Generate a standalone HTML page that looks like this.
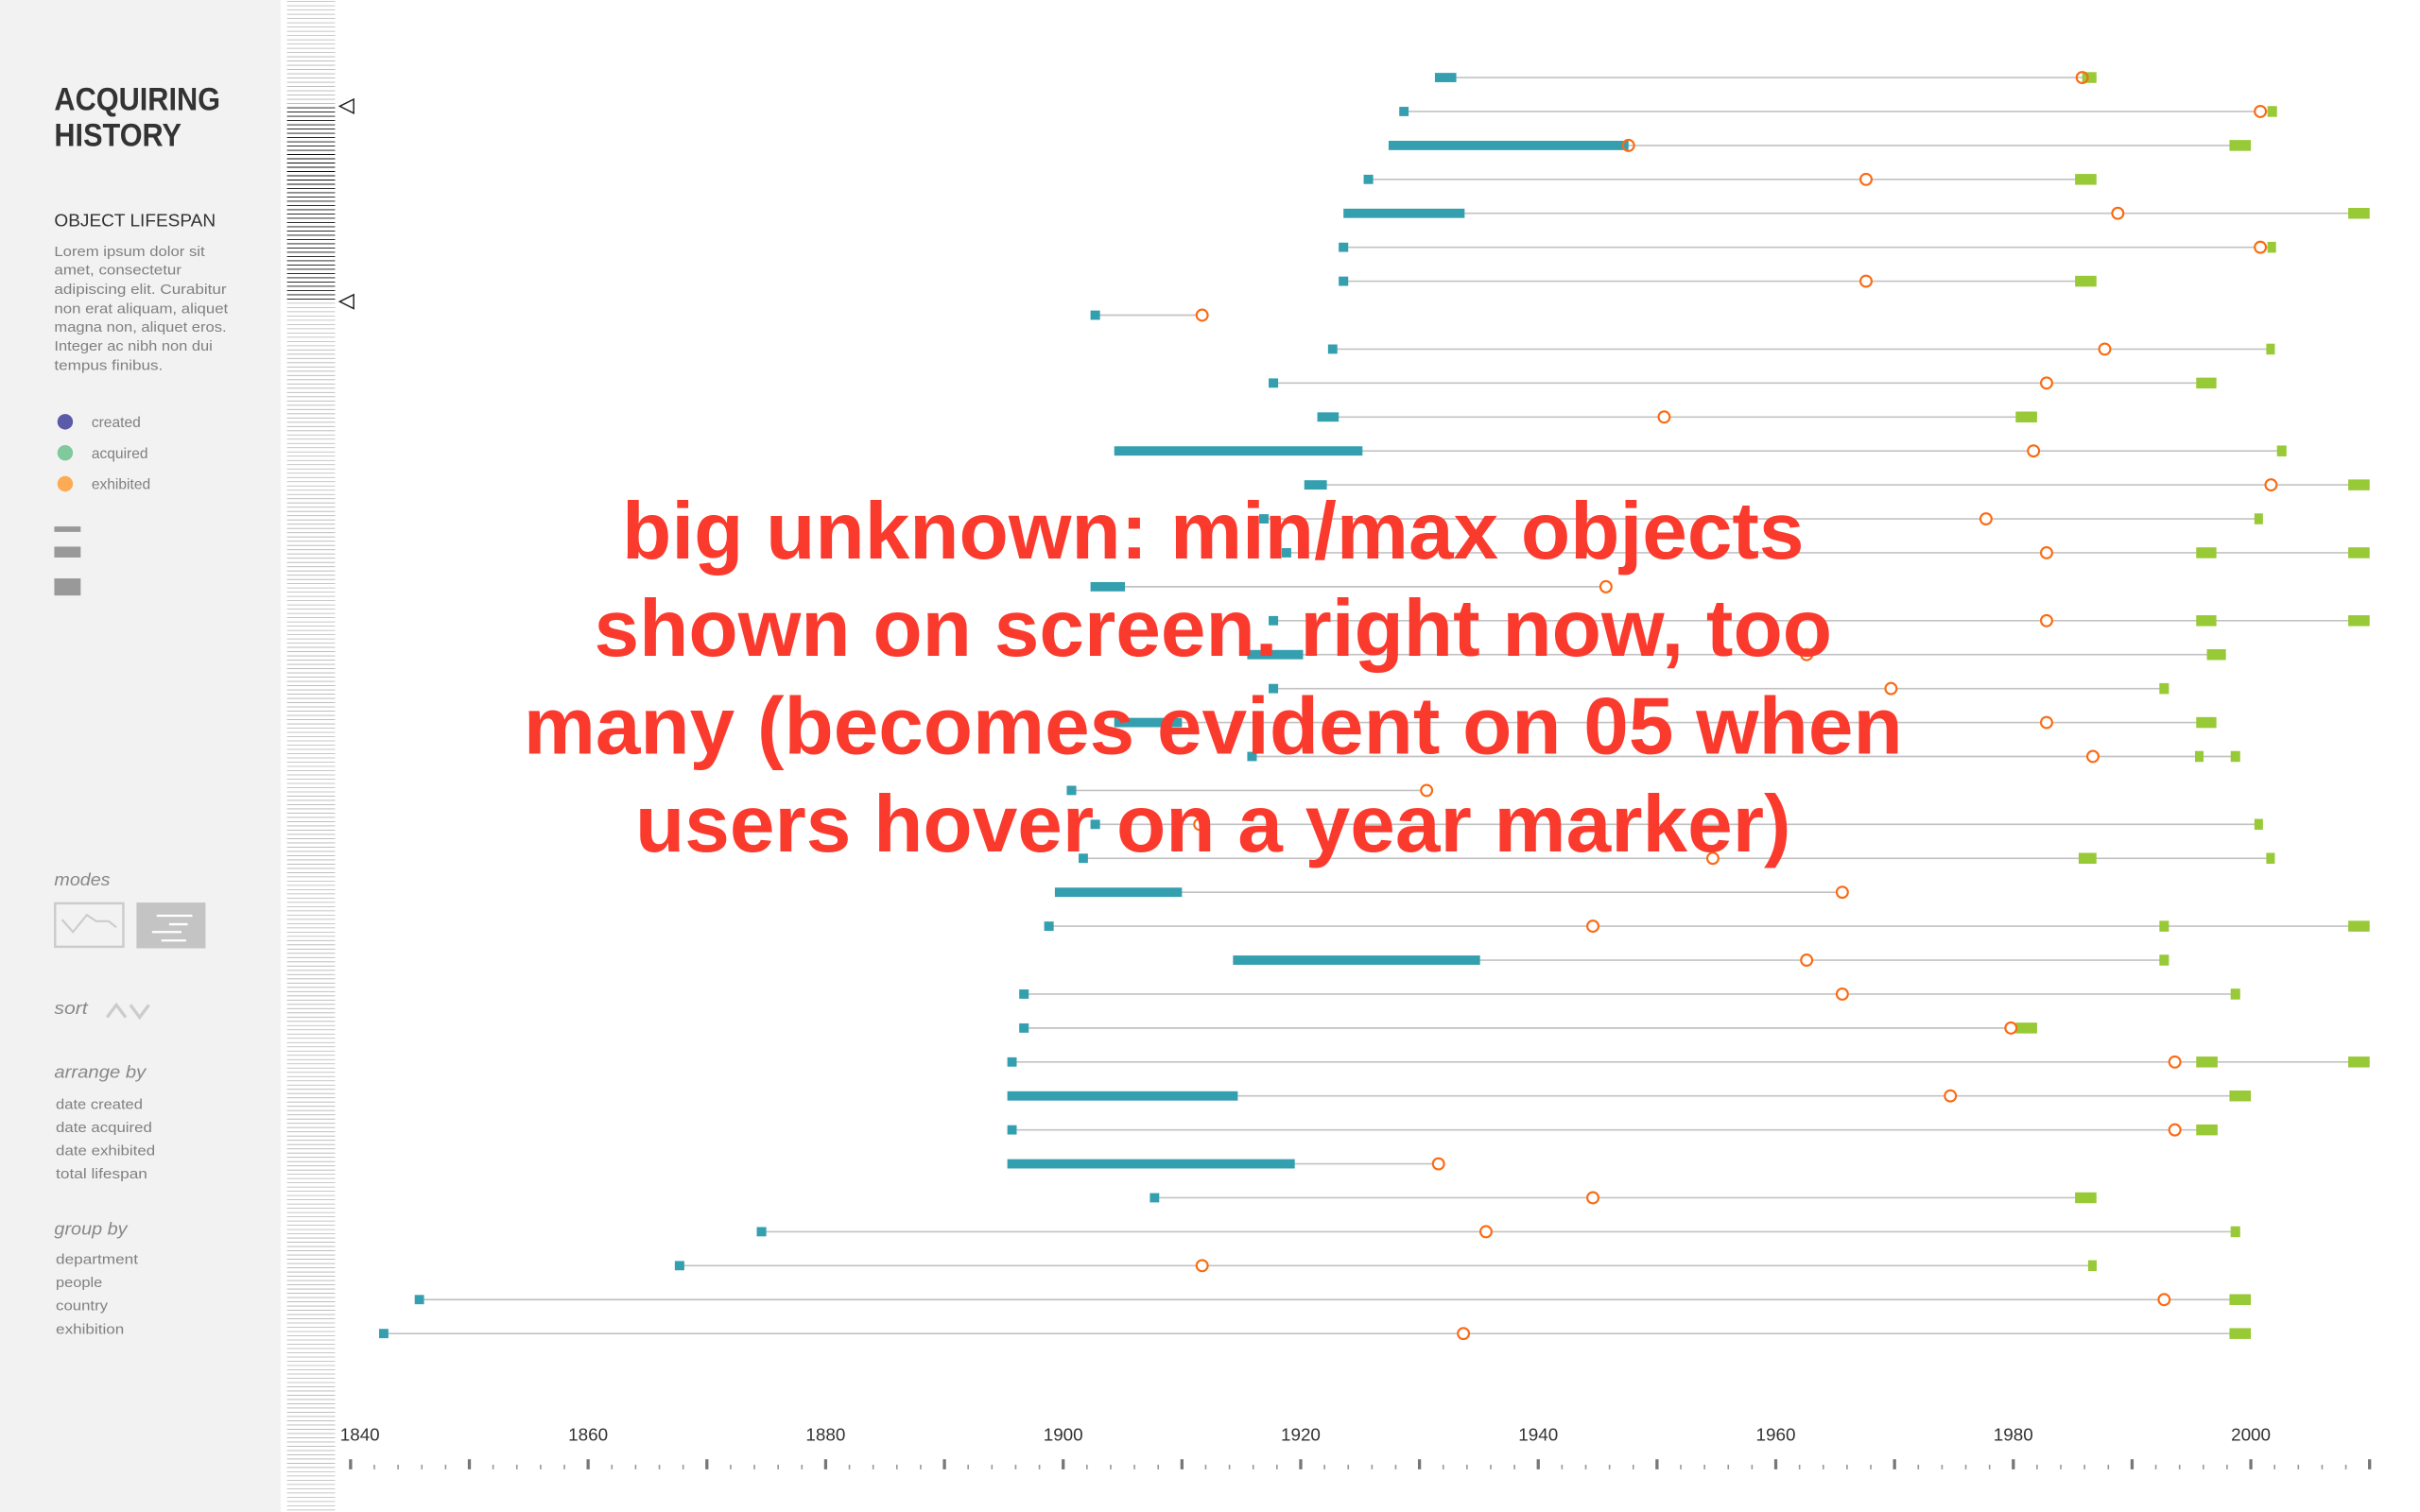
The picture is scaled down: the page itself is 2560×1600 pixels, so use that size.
<!DOCTYPE html>
<html><head><meta charset="utf-8"><style>
html,body{margin:0;padding:0;background:#fff;width:2560px;height:1600px;overflow:hidden}
svg{display:block}
text{font-family:"Liberation Sans",sans-serif}
</style></head><body>
<svg id="root" width="2560" height="1600" viewBox="0 0 1560 975" preserveAspectRatio="none">
<rect x="0" y="0" width="181" height="975" fill="#f2f2f2"/>
<g>
<text x="35" y="71" font-size="21" font-weight="bold" fill="#333" textLength="107" lengthAdjust="spacingAndGlyphs">ACQUIRING</text>
<text x="35" y="94" font-size="21" font-weight="bold" fill="#333" textLength="82" lengthAdjust="spacingAndGlyphs">HISTORY</text>
<text x="35" y="146" font-size="11.5" fill="#333" textLength="104" lengthAdjust="spacingAndGlyphs">OBJECT LIFESPAN</text>
<g font-size="9.2" fill="#808080">
<text x="35" y="165" textLength="97" lengthAdjust="spacingAndGlyphs">Lorem ipsum dolor sit</text>
<text x="35" y="177" textLength="82" lengthAdjust="spacingAndGlyphs">amet, consectetur</text>
<text x="35" y="189.5" textLength="111" lengthAdjust="spacingAndGlyphs">adipiscing elit. Curabitur</text>
<text x="35" y="202" textLength="112" lengthAdjust="spacingAndGlyphs">non erat aliquam, aliquet</text>
<text x="35" y="214" textLength="111" lengthAdjust="spacingAndGlyphs">magna non, aliquet eros.</text>
<text x="35" y="226" textLength="102" lengthAdjust="spacingAndGlyphs">Integer ac nibh non dui</text>
<text x="35" y="238.5" textLength="70" lengthAdjust="spacingAndGlyphs">tempus finibus.</text>
</g>
<circle cx="42" cy="272" r="5" fill="#5b5aa8"/>
<text x="59" y="275.5" font-size="9.5" fill="#808080">created</text>
<circle cx="42" cy="292" r="5" fill="#7fc99d"/>
<text x="59" y="295.5" font-size="9.5" fill="#808080">acquired</text>
<circle cx="42" cy="312" r="5" fill="#fdaa55"/>
<text x="59" y="315.5" font-size="9.5" fill="#808080">exhibited</text>
<rect x="35" y="339.5" width="17" height="3.5" fill="#999"/>
<rect x="35" y="352.5" width="17" height="7" fill="#999"/>
<rect x="35" y="373" width="17" height="11" fill="#999"/>
<text x="35" y="571" font-size="11" font-style="italic" fill="#888" textLength="36" lengthAdjust="spacingAndGlyphs">modes</text>
<g>
<rect x="35.5" y="582.5" width="44" height="28" fill="none" stroke="#ccc" stroke-width="1.5"/>
<polyline points="40,593 47,601 56,590 62,594 70,594 75,598" fill="none" stroke="#ccc" stroke-width="1.3"/>
</g>
<g>
<rect x="88" y="582" width="44.5" height="29.5" fill="#c4c4c4"/>
<g stroke="#fff" stroke-width="1.4"><line x1="101" y1="590.5" x2="124" y2="590.5"/><line x1="109" y1="596" x2="121" y2="596"/><line x1="98" y1="601" x2="117" y2="601"/><line x1="104" y1="606.5" x2="120" y2="606.5"/></g>
</g>
<text x="35" y="654" font-size="11" font-style="italic" fill="#888" textLength="21.5" lengthAdjust="spacingAndGlyphs">sort</text>
<polyline points="69,656 75,648 81,656" fill="none" stroke="#ccc" stroke-width="2"/>
<polyline points="84,648 90,656 96,648" fill="none" stroke="#ccc" stroke-width="2"/>
<text x="35" y="695" font-size="11" font-style="italic" fill="#888" textLength="59" lengthAdjust="spacingAndGlyphs">arrange by</text>
<g font-size="9" fill="#808080">
<text x="36" y="715" textLength="56" lengthAdjust="spacingAndGlyphs">date created</text>
<text x="36" y="730" textLength="62" lengthAdjust="spacingAndGlyphs">date acquired</text>
<text x="36" y="745" textLength="64" lengthAdjust="spacingAndGlyphs">date exhibited</text>
<text x="36" y="760" textLength="59" lengthAdjust="spacingAndGlyphs">total lifespan</text>
</g>
<text x="35" y="796" font-size="11" font-style="italic" fill="#888" textLength="47" lengthAdjust="spacingAndGlyphs">group by</text>
<g font-size="9" fill="#808080">
<text x="36" y="815" textLength="53" lengthAdjust="spacingAndGlyphs">department</text>
<text x="36" y="830" textLength="30" lengthAdjust="spacingAndGlyphs">people</text>
<text x="36" y="845" textLength="33.5" lengthAdjust="spacingAndGlyphs">country</text>
<text x="36" y="860" textLength="44" lengthAdjust="spacingAndGlyphs">exhibition</text>
</g>
</g>
<g id="minimap"></g>
<polygon points="228,64 219,68.5 228,73" fill="none" stroke="#222" stroke-width="0.9"/>
<polygon points="228,190 219,194.5 228,199" fill="none" stroke="#222" stroke-width="0.9"/>
<g id="rows"></g>
<g id="axis"></g>
<g fill="#fb3a2e" font-size="52" font-weight="bold" text-anchor="middle">
<text x="782" y="360" textLength="762" lengthAdjust="spacingAndGlyphs">big unknown: min/max objects</text>
<text x="782" y="423" textLength="798" lengthAdjust="spacingAndGlyphs">shown on screen. right now, too</text>
<text x="782" y="486" textLength="889" lengthAdjust="spacingAndGlyphs">many (becomes evident on 05 when</text>
<text x="782" y="549" textLength="745" lengthAdjust="spacingAndGlyphs">users hover on a year marker)</text>
</g>
</svg>
<script>
const createdStart=[1931.3,1928.3,1927.4,1925.3,1923.6,1923.2,1923.2,1902.3,1922.3,1917.3,1921.4,1904.3,1920.3,1916.5,1918.4,1902.3,1917.3,1915.5,1917.3,1904.3,1915.5,1900.3,1902.3,1901.3,1899.3,1898.4,1914.3,1896.3,1896.3,1895.3,1895.3,1895.3,1895.3,1907.3,1874.2,1867.3,1845.4,1842.4];
const createdEnd=[1933.1,1929,1947.6,1926.1,1933.8,1924,1924,1903.1,1923,1918.1,1923.2,1925.2,1922.2,1917.3,1919.2,1905.2,1918.1,1920.2,1918.1,1910,1916.3,1901.1,1903.1,1902,1910,1899.2,1935.1,1897.1,1897.1,1896,1914.7,1896,1919.5,1908,1875,1868.1,1846.1,1843.1];
const acquired=[1985.8,2000.8,1947.6,1967.6,1988.8,2000.8,1967.6,1911.7,1987.7,1982.8,1950.6,1981.7,2001.7,1977.7,1982.8,1945.7,1982.8,1962.6,1969.7,1982.8,1986.7,1930.6,1911.5,1954.7,1965.6,1944.6,1962.6,1965.6,1979.8,1993.6,1974.7,1993.6,1931.6,1944.6,1935.6,1911.7,1992.7,1933.7];
const exhibitions=[[[1985.8,1987]],[[2001.4,2002.2]],[[1998.2,2000]],[[1985.2,1987]],[[2008.2,2010]],[[2001.4,2002]],[[1985.2,1987]],[],[[2001.3,2002]],[[1995.4,1997.1]],[[1980.2,1982]],[[2002.2,2003]],[[2008.2,2010]],[[2000.3,2001]],[[1995.4,1997.1],[2008.2,2010]],[],[[1995.4,1997.1],[2008.2,2010]],[[1996.3,1997.9]],[[1992.3,1993.1]],[[1995.4,1997.1]],[[1995.3,1996],[1998.3,1999.1]],[],[[2000.3,2001]],[[1985.5,1987],[2001.3,2002]],[],[[1992.3,1993.1],[2008.2,2010]],[[1992.3,1993.1]],[[1998.3,1999.1]],[[1980.2,1982]],[[1995.4,1997.2],[2008.2,2010]],[[1998.2,2000]],[[1995.4,1997.2]],[],[[1985.2,1987]],[[1998.3,1999.1]],[[1986.3,1987]],[[1998.2,2000]],[[1998.2,2000]]];
const tickLabels=[1840,1860,1880,1900,1920,1940,1960,1980,2000];

const NS='http://www.w3.org/2000/svg';
const X0=226, PX=7.656, Y0=50, ROW=21.89;
function xScale(yr){return X0+(yr-1840)*PX;}
function yRow(i){return Y0+i*ROW;}
function mk(tag,attrs,parent){const e=document.createElementNS(NS,tag);for(const k in attrs)e.setAttribute(k,attrs[k]);parent.appendChild(e);return e;}

const mm=document.getElementById('minimap');
for(let y=1;y<975;y+=2.74){
  const dark=(y>=67&&y<=195);
  const l=mk('line',{x1:185,x2:216,y1:y.toFixed(2),y2:y.toFixed(2),stroke:dark?'#111':'#b5b5b5','stroke-width':dark?0.55:0.5},mm);
  
  
}

const rows=document.getElementById('rows');
for(let i=0;i<createdStart.length;i++){
  const y=yRow(i);
  const g=mk('g',{},rows);
  
  
  let endYr=acquired[i];
  exhibitions[i].forEach(p=>{if(p[1]>endYr)endYr=p[1];});
  const ln=mk('line',{x1:xScale(createdStart[i]),x2:xScale(endYr),y1:y,y2:y,stroke:'#c2c2c2','stroke-width':1},g);
  
  
  const cx0=xScale(createdStart[i]);
  const cw=Math.max(xScale(createdEnd[i])-cx0,6);
  const cr=mk('rect',{x:cx0,y:y-3,width:cw,height:6,fill:'#349fae'},g);
  
  
  let covered=Math.abs(acquired[i]-createdEnd[i])<0.5;
  exhibitions[i].forEach(p=>{
    const ex=xScale(p[0]);
    const ew=Math.max(xScale(p[1])-ex,5.5);
    const er=mk('rect',{x:ex,y:y-3.5,width:ew,height:7,fill:'#98c936'},g);
    
    
    if(acquired[i]>=p[0]-0.3&&acquired[i]<=p[1]+0.3)covered=true;
  });
  const c=mk('circle',{cx:xScale(acquired[i]),cy:y,r:3.6,fill:covered?'none':'#fff',stroke:'#fb6a12','stroke-width':1.3},g);
  
  
}

const ax=document.getElementById('axis');
tickLabels.forEach(t=>{
  const tx=mk('text',{x:xScale(t)+(t===1840?6:0),y:929,'font-size':11.5,fill:'#333','text-anchor':'middle'},ax);
  tx.textContent=t;
  
  
});
for(let yr=1840;yr<=2010;yr+=2){
  const major=yr%10===0;
  const tk=mk('rect',{x:xScale(yr)-(major?1:0.5),y:major?941:944.5,width:major?2:1,height:major?6.5:3,fill:major?'#777':'#999'},ax);
  
  
}
</script>
</body></html>
